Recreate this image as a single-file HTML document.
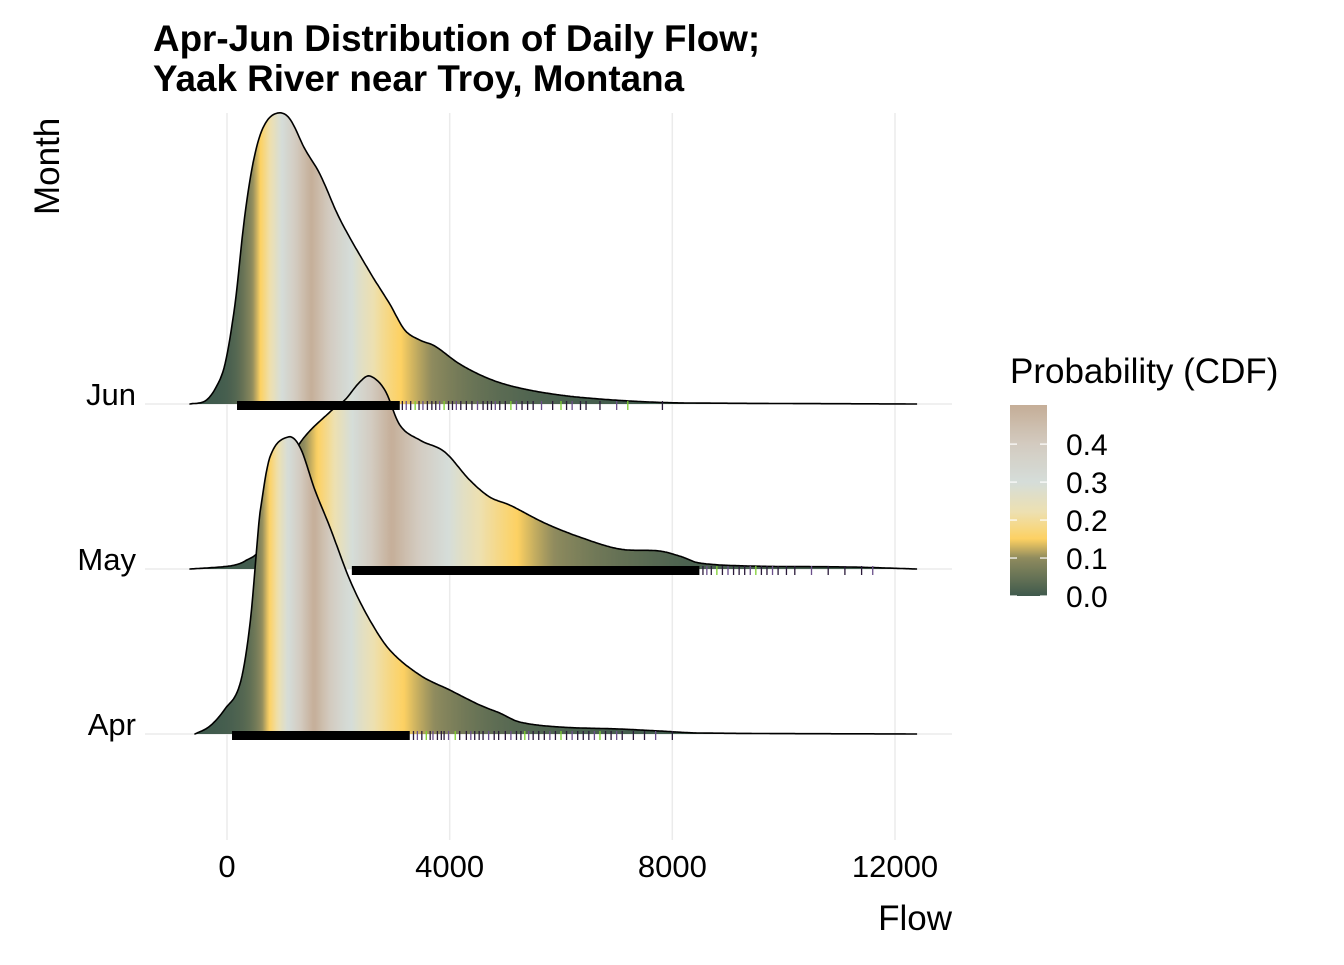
<!DOCTYPE html>
<html><head><meta charset="utf-8"><style>
html,body{margin:0;padding:0;background:#fff}
svg text{font-family:"Liberation Sans",sans-serif;fill:#000}
</style></head><body>
<svg id="chart" width="1344" height="960" viewBox="0 0 1344 960" xmlns="http://www.w3.org/2000/svg">
<defs id="defs"></defs>
<g id="grid"></g>
<g id="ridges"></g>
<g id="rugs"></g>
<text x="153" y="51" font-size="36.8" font-weight="bold">Apr-Jun Distribution of Daily Flow;</text>
<text x="153" y="91" font-size="36.8" font-weight="bold">Yaak River near Troy, Montana</text>
<text transform="translate(59,215) rotate(-90)" font-size="35">Month</text>
<text x="952" y="930" font-size="35" text-anchor="end">Flow</text>
<g id="xticks"></g>
<g id="yticks"></g>
<g id="legend">
<text x="1010" y="383" font-size="35">Probability (CDF)</text>
</g>
</svg>
<script>
const months = ["Apr","May","Jun"];
const xTicks = [0,4000,8000,12000];
const legendTicks = [0.0,0.1,0.2,0.3,0.4];
const aprFlow = [-574,-305,-36,233,413,556,592,771,1094,1310,1579,1848,2207,2565,2924,3462,4001,4539,4898,5256,5974,7050,7768,8486,12397];
const aprDens = [0,8,25,50,110,200,221,277,297,287,244,207,154,114,84,59,44,29,21,12,7,5,3,1,0];
const mayFlow = [-664,-126,144,323,592,951,1130,1310,1848,2117,2386,2565,2835,3104,3462,3911,4359,4718,5077,5705,6333,7050,7768,8127,8486,9383,11177,12397];
const mayDens = [0,2,4,8,20,70,100,126,157,169,187,193,179,144,129,117,89,72,64,46,32,20,18,13,6,3,2,0];
const junFlow = [-664,-395,-215,-36,144,323,502,682,915,1130,1399,1668,2027,2565,2924,3193,3462,3732,4180,4718,5256,5974,6692,7589,8306,12397];
const junDens = [0,3,15,40,100,190,250,280,291,285,255,230,185,132,100,74,64,58,40,25,16,9,5,2,1,0];
const rugSolid = [[90,3283],[2243,8486],[180,3104]];
const rugSparse = [
 [3350,3420,3500,3580,3650,3700,3780,3850,3900,3980,4100,4180,4300,4380,4450,4530,4600,4700,4800,4880,5000,5100,5200,5280,5350,5420,5500,5600,5700,5800,5900,6000,6100,6200,6300,6400,6500,6600,6700,6800,6900,7000,7100,7300,7500,7700,8000],
 [8550,8620,8700,8800,8900,9000,9100,9200,9300,9400,9500,9600,9700,9800,9900,10050,10200,10500,10800,11100,11400,11600],
 [3150,3220,3300,3380,3450,3520,3600,3680,3750,3820,3900,3980,4050,4120,4200,4300,4400,4500,4600,4680,4750,4820,4900,5000,5100,5200,5300,5400,5500,5650,5850,6000,6100,6200,6350,6450,6700,7000,7200,7822]
];
const NS="http://www.w3.org/2000/svg";
const x0=227, pxPer=(895-227)/12000;
const X=f=>x0+f*pxPer;
const baselines=[734,569,404];
const Y=(i,d)=>baselines[i]-d;
const LEG_TOP=405, LEG_BOT=596, LEG_MAX=0.503;
const cstops=[[0,"#3f5a4d"],[0.1,"#8f8b5e"],[0.15,"#fdd162"],[0.22,"#ede0b0"],[0.3,"#d5ddd9"],[0.4,"#d3cbc0"],[0.5,"#c5ae98"]];
function hex(h){return [1,3,5].map(k=>parseInt(h.substr(k,2),16));}
function col(p){
 p=Math.max(0,Math.min(0.5,p));
 for(let k=1;k<cstops.length;k++){if(p<=cstops[k][0]){const a=cstops[k-1],b=cstops[k];const t=(p-a[0])/(b[0]-a[0]);const A=hex(a[1]),B=hex(b[1]);return "rgb("+A.map((v,j)=>Math.round(v+(B[j]-v)*t)).join(",")+")";}}
 return cstops[cstops.length-1][1];
}
function mk(tag,attrs,parent){const e=document.createElementNS(NS,tag);for(const k in attrs)e.setAttribute(k,attrs[k]);parent.appendChild(e);return e;}
const grid=document.getElementById('grid');
xTicks.forEach(t=>{
 const l=mk('line',{x1:X(t),x2:X(t),y1:113,y2:840,stroke:"#ebebeb","stroke-width":1.5},grid);
 
 
 const tx=mk('text',{x:X(t),y:877,"font-size":31,"text-anchor":"middle"},document.getElementById('xticks'));
 tx.textContent=t;
 
 
});
months.forEach((m,i)=>{
 const l=mk('line',{x1:145,x2:952,y1:baselines[i],y2:baselines[i],stroke:"#ebebeb","stroke-width":1.5},grid);
 
 
 const tx=mk('text',{x:136,y:baselines[i]+1,"font-size":31,"text-anchor":"end"},document.getElementById('yticks'));
 tx.textContent=m;
 
 
});
const defs=document.getElementById('defs');
const flows=[aprFlow,mayFlow,junFlow], dens=[aprDens,mayDens,junDens];
function interp(fx,fy,f){
 const n=fx.length;
 if(f<=fx[0])return fy[0];
 for(let k=1;k<n;k++){if(f<=fx[k]){
  const x1=fx[k-1],x2=fx[k],y1=fy[k-1],y2=fy[k],h=x2-x1,t=(f-x1)/h;
  const m1=k-2>=0?(y2-fy[k-2])/(x2-fx[k-2])*h:(y2-y1);
  const m2=k+1<n?(fy[k+1]-y1)/(fx[k+1]-x1)*h:(y2-y1);
  const t2=t*t,t3=t2*t;
  const v=(2*t3-3*t2+1)*y1+(t3-2*t2+t)*m1+(-2*t3+3*t2)*y2+(t3-t2)*m2;
  return Math.max(0,Math.min(Math.max(y1,y2)*1.03+1,v));
 }}
 return fy[n-1];
}
const ridges=document.getElementById('ridges');
[2,1,0].forEach(i=>{
 const fx=flows[i],fy=dens[i];
 const a=fx[0],b=fx[fx.length-1],N=600,step=(b-a)/N;
 const pts=[],cdf=[0];let tot=0;
 for(let k=0;k<=N;k++){const f=a+k*step;pts.push([f,interp(fx,fy,f)]);if(k>0){tot+=(pts[k][1]+pts[k-1][1])/2*step;cdf.push(tot);}}
 const g=mk('linearGradient',{id:'grad'+i,gradientUnits:'userSpaceOnUse',x1:X(a),x2:X(b),y1:0,y2:0},defs);
 for(let k=0;k<=N;k+=2){const F=cdf[k]/tot;mk('stop',{offset:(k/N),"stop-color":col(Math.min(F,1-F))},g);}
 let d="M"+X(a)+","+baselines[i];
 pts.forEach(p=>{d+=" L"+X(p[0]).toFixed(1)+","+Y(i,p[1]).toFixed(1);});
 const fill=mk('path',{d:d+" L"+X(b)+","+baselines[i]+" Z",fill:"url(#grad"+i+")",stroke:"none"},ridges);
 
 
 const line=mk('path',{d:d,fill:"none",stroke:"#000","stroke-width":1.6,"stroke-linejoin":"round"},ridges);
 
 
});
const rugs=document.getElementById('rugs');
months.forEach((m,i)=>{
 const s=rugSolid[i];
 const r=mk('rect',{x:X(s[0]),y:baselines[i]-3,width:X(s[1])-X(s[0]),height:9,fill:"#000"},rugs);
 
 
 rugSparse[i].forEach((f,k)=>{
  const t=mk('line',{x1:X(f),x2:X(f),y1:baselines[i]-3,y2:baselines[i]+6,stroke:(k%4==1?"#6a4f8a":(k%7==3?"#7fd030":"#2a1a3a")),"stroke-width":1.3},rugs);
  
  
 });
});
const leg=document.getElementById('legend');
const lg=mk('linearGradient',{id:'leggrad',x1:0,y1:1,x2:0,y2:0},defs);
for(let k=0;k<=50;k++){const p=k/50*LEG_MAX;mk('stop',{offset:k/50,"stop-color":col(p)},lg);}
const bar=mk('rect',{x:1010,y:LEG_TOP,width:37,height:LEG_BOT-LEG_TOP,fill:"url(#leggrad)"},leg);


legendTicks.forEach(v=>{
 const y=LEG_BOT-(v/LEG_MAX)*(LEG_BOT-LEG_TOP);
 mk('line',{x1:1010,x2:1017,y1:y,y2:y,stroke:"#fff","stroke-width":1.2},leg);
 mk('line',{x1:1040,x2:1047,y1:y,y2:y,stroke:"#fff","stroke-width":1.2},leg);
 const t=mk('text',{x:1066,y:y+11,"font-size":30},leg);
 t.textContent=v.toFixed(1);
 
 
});
</script>
</body></html>
